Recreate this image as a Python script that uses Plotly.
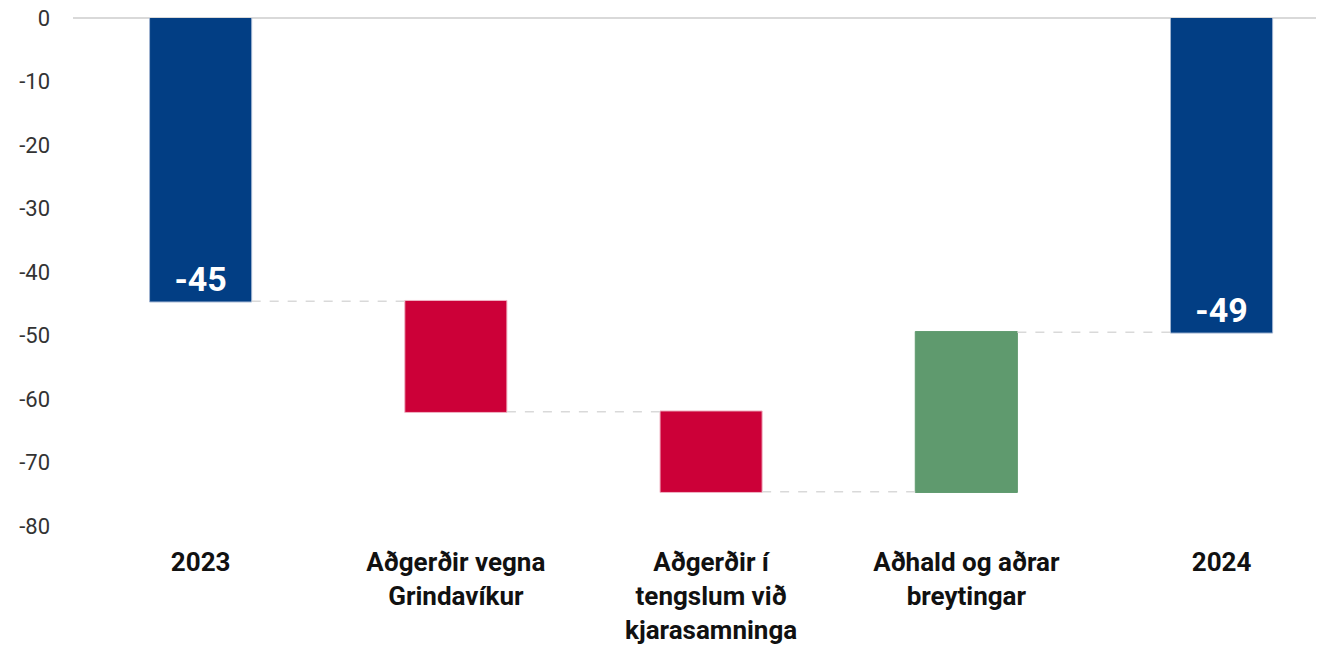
import plotly.graph_objects as go

categories = ["2023", "Aðgerðir vegna<br>Grindavíkur", "Aðgerðir í<br>tengslum við<br>kjarasamninga",
              "Aðhald og aðrar<br>breytingar", "2024"]
measures = ["absolute", "relative", "relative", "relative", "total"]
values = [-44.6, -17.4, -12.6, 25.1, 0]
labels = ["-45", "", "", "", "-49"]
ytick_vals = [0, -10, -20, -30, -40, -50, -60, -70, -80]
ytick_text = ["0", "-10", "-20", "-30", "-40", "-50", "-60", "-70", "-80"]

fig = go.Figure(go.Waterfall(
    x=categories,
    measure=measures,
    y=values,
    text=labels,
    textposition="inside",
    insidetextanchor="end",
    textfont=dict(family="Roboto", size=34, color="white", weight="bold"),
    width=0.4,
    totals=dict(marker=dict(color="#023E84", line=dict(color="#9fb3d1", width=1))),
    decreasing=dict(marker=dict(color="#CC0038", line=dict(color="#f0b3c3", width=1))),
    increasing=dict(marker=dict(color="#5F9A6E", line=dict(color="#5F9A6E", width=1))),
    connector=dict(line=dict(color="#d9d9d9", width=1.5, dash="dash")),
    hoverinfo="skip",
))

fig.update_layout(
    width=1327, height=648,
    margin=dict(l=73, r=11, t=18, b=122),
    paper_bgcolor="white", plot_bgcolor="white",
    showlegend=False,
    font=dict(family="Roboto", color="#222"),
)
fig.update_xaxes(
    range=[-0.5, 4.37],
    automargin=False,
    showgrid=False, showline=False, ticks="",
    tickfont=dict(family="Roboto", size=26, color="#111", weight="bold"),
    ticklabelstandoff=18,
)
fig.update_yaxes(
    range=[-80, 0],
    automargin=False,
    tickvals=ytick_vals,
    ticktext=ytick_text,
    ticklabeloverflow="allow",
    showgrid=False,
    zeroline=True, zerolinecolor="#d9d9d9", zerolinewidth=2,
    tickfont=dict(family="Roboto", size=22, color="#333"),
    ticklabelstandoff=22,
)

fig.write_html("out.html", config={"displayModeBar": False},
               post_script="document.body.style.margin='0';")
